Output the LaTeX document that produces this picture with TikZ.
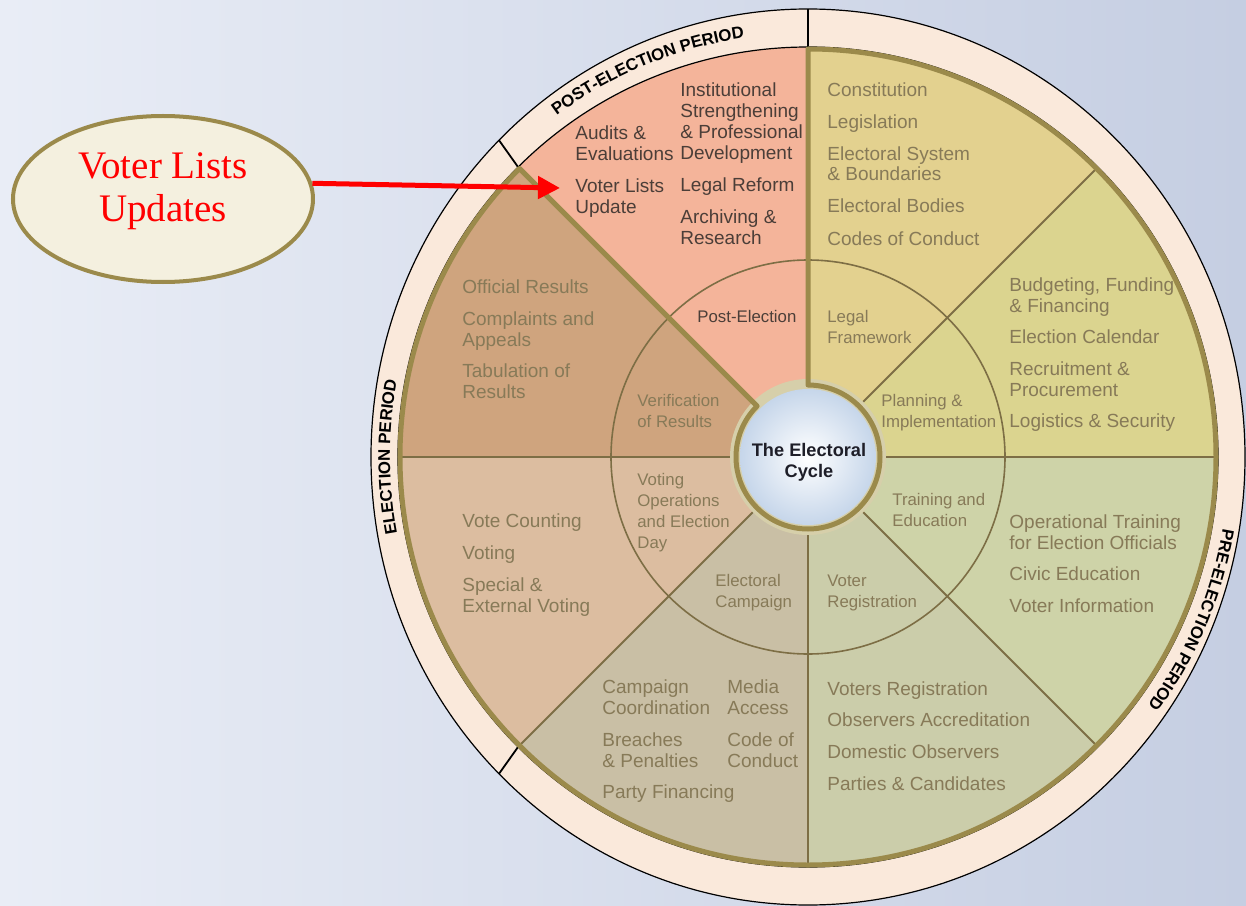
\documentclass[tikz,border=0pt]{standalone}
\usepackage{fontspec}
\setmainfont{Liberation Sans}
\newfontfamily\calloutfont{Liberation Serif}
\usetikzlibrary{shapes.geometric,arrows.meta,decorations.text}
\definecolor{bgleft}{RGB}{233,237,246}
\definecolor{bgright}{RGB}{197,206,226}
\definecolor{ringfill}{RGB}{250,233,219}
\definecolor{postfill}{RGB}{244,180,154}
\definecolor{legalfill}{RGB}{227,209,143}
\definecolor{planfill}{RGB}{219,212,143}
\definecolor{trainfill}{RGB}{206,211,168}
\definecolor{regfill}{RGB}{203,205,170}
\definecolor{campfill}{RGB}{201,191,165}
\definecolor{votefill}{RGB}{220,189,160}
\definecolor{verifill}{RGB}{207,164,126}
\definecolor{olivebd}{RGB}{155,138,75}
\definecolor{divline}{RGB}{125,110,69}
\definecolor{itemtxt}{RGB}{135,122,88}
\definecolor{posttxt}{RGB}{75,62,56}
\definecolor{hubblue}{RGB}{198,214,234}
\definecolor{halo}{RGB}{214,207,170}
\definecolor{calloutfill}{RGB}{244,240,223}
\newcommand{\ringin}{410}
\newcommand{\midrad}{197}
\newcommand{\hubrad}{68}

\begin{document}
\begin{tikzpicture}[x=0.5pt,y=0.5pt,
    item/.style={anchor=base west, align=left, inner sep=0pt, text=itemtxt,
      font=\fontsize{9.5}{10.5}\selectfont},
    postitem/.style={item, text=posttxt},
    phase/.style={item, font=\fontsize{8.4}{10.5}\selectfont},
    divider/.style={divline, line width=1pt},
    border/.style={olivebd, line width=2.5pt, line join=round},
    ringlabel/.style={decorate, decoration={text along path, text align=center,
      text={|\fontsize{8.4}{10}\selectfont\bfseries|#1}}}]

      %% background and frame %%
      \useasboundingbox (-808,-448) rectangle (438,457);
      \shade[left color=bgleft, right color=bgright] (-808,-448) rectangle (438,457);

      %% outer period ring %%
      \fill[ringfill] (0,0) ellipse (437 and 448);
      \draw[black, line width=0.6pt] (0,0) ellipse (437 and 448);

      %% the eight sectors %%
      \foreach \a/\c in {0/planfill,45/legalfill,90/postfill,135/verifill,
                         180/votefill,225/campfill,270/regfill,315/trainfill}
      { \fill[\c] (0,0) -- (\a:\ringin) arc (\a:\a+45:\ringin) -- cycle;}
      \draw[black, line width=0.6pt] (0,0) circle (\ringin);
      \foreach \a in {90,135,225}
      { \draw[black, line width=0.9pt] (\a:\ringin) -- (\a:437 and 448);}

      \foreach \a in {0,45,180,225,270,315}
      { \draw[divider] (\a:\hubrad) -- (\a:\ringin);}
      \draw[divider, line width=0.8pt] (0,0) circle (\midrad);

      %% hub %%
      \fill[halo] (0,0) circle (78);
      \shade[inner color=white, outer color=hubblue] (0,0) circle (\hubrad);
      \draw[border] (90:72) -- (90:408) arc (90:-225:408) -- (135:72)
                    arc (135:450:72) -- cycle;
      \node (hub) at (1,-5) [align=center, inner sep=0pt, text={rgb,255:red,30;green,30;blue,40},
            font=\fontsize{9.1}{10.5}\selectfont\bfseries] {The Electoral\\Cycle};

      %% period labels %%
      \path[ringlabel={POST-ELECTION PERIOD}] (135:424) arc (135:90:424);
      \path[ringlabel={PRE-ELECTION PERIOD}] (-1:421) arc (-1:-45:421);
      \path[ringlabel={ELECTION PERIOD}] (200:418) arc (200:160:418);

      %% phase names %%
      \node (ph1) at (-111,135) [phase, text=posttxt] {Post-Election};
      \node (ph2) at (19,114)   [phase] {Legal\\Framework};
      \node (ph3) at (73,30)    [phase] {Planning \&\\Implementation};
      \node (ph4) at (84,-69)   [phase] {Training and\\Education};
      \node (ph5) at (19,-150)  [phase] {Voter\\Registration};
      \node (ph6) at (-93,-150) [phase] {Electoral\\Campaign};
      \node (ph7) at (-171,-91) [phase] {Voting\\Operations\\and Election\\Day};
      \node (ph8) at (-171,30)  [phase] {Verification\\of Results};

      %% post-election %%
      \node (pe1) at (-233,296) [postitem] {Audits \&\\Evaluations};
      \node (pe2) at (-233,243) [postitem] {Voter Lists\\Update};
      \node (pe3) at (-128,297) [postitem] {Institutional\\Strengthening\\\& Professional\\Development};
      \node (pe4) at (-128,265) [postitem] {Legal Reform};
      \node (pe5) at (-128,213) [postitem] {Archiving \&\\Research};

      %% legal framework %%
      \node (lf1) at (19,360) [item] {Constitution};
      \node (lf2) at (19,328) [item] {Legislation};
      \node (lf3) at (19,276) [item] {Electoral System\\\& Boundaries};
      \node (lf4) at (19,244) [item] {Electoral Bodies};
      \node (lf5) at (19,212) [item] {Codes of Conduct};

      %% planning %%
      \node (pl1) at (201,145) [item] {Budgeting, Funding\\\& Financing};
      \node (pl2) at (201,114) [item] {Election Calendar};
      \node (pl3) at (201,61)  [item] {Recruitment \&\\Procurement};
      \node (pl4) at (201,30)  [item] {Logistics \& Security};

      %% training %%
      \node (tr1) at (201,-92)  [item] {Operational Training\\for Election Officials};
      \node (tr2) at (201,-123) [item] {Civic Education};
      \node (tr3) at (201,-155) [item] {Voter Information};

      %% registration %%
      \node (vr1) at (19,-238) [item] {Voters Registration};
      \node (vr2) at (19,-269) [item] {Observers Accreditation};
      \node (vr3) at (19,-301) [item] {Domestic Observers};
      \node (vr4) at (19,-333) [item] {Parties \& Candidates};

      %% campaign %%
      \node (ec1) at (-206,-257) [item] {Campaign\\Coordination};
      \node (ec2) at (-206,-310) [item] {Breaches\\\& Penalties};
      \node (ec3) at (-206,-341) [item] {Party Financing};
      \node (ec4) at (-81,-257)  [item] {Media\\Access};
      \node (ec5) at (-81,-310)  [item] {Code of\\Conduct};

      %% voting %%
      \node (vo1) at (-346,-70)  [item] {Vote Counting};
      \node (vo2) at (-346,-102) [item] {Voting};
      \node (vo3) at (-346,-155) [item] {Special \&\\External Voting};

      %% verification %%
      \node (ve1) at (-346,163) [item] {Official Results};
      \node (ve2) at (-346,111) [item] {Complaints and\\Appeals};
      \node (ve3) at (-346,59)  [item] {Tabulation of\\Results};

      %% callout %%
      \node (callout) at (-645,258) [ellipse, draw=olivebd, line width=2pt, fill=calloutfill,
            minimum width=150pt, minimum height=83pt, align=center, text=red, text depth=12pt,
            font=\calloutfont\fontsize{19.5}{21.5}\selectfont] {Voter Lists\\Updates};
      \coordinate (tip) at (-248,269);
      \draw[red, line width=2.5pt, -{Triangle[length=11pt,width=11pt]}] (callout.6) -- (tip);

\end{tikzpicture}
\end{document}
